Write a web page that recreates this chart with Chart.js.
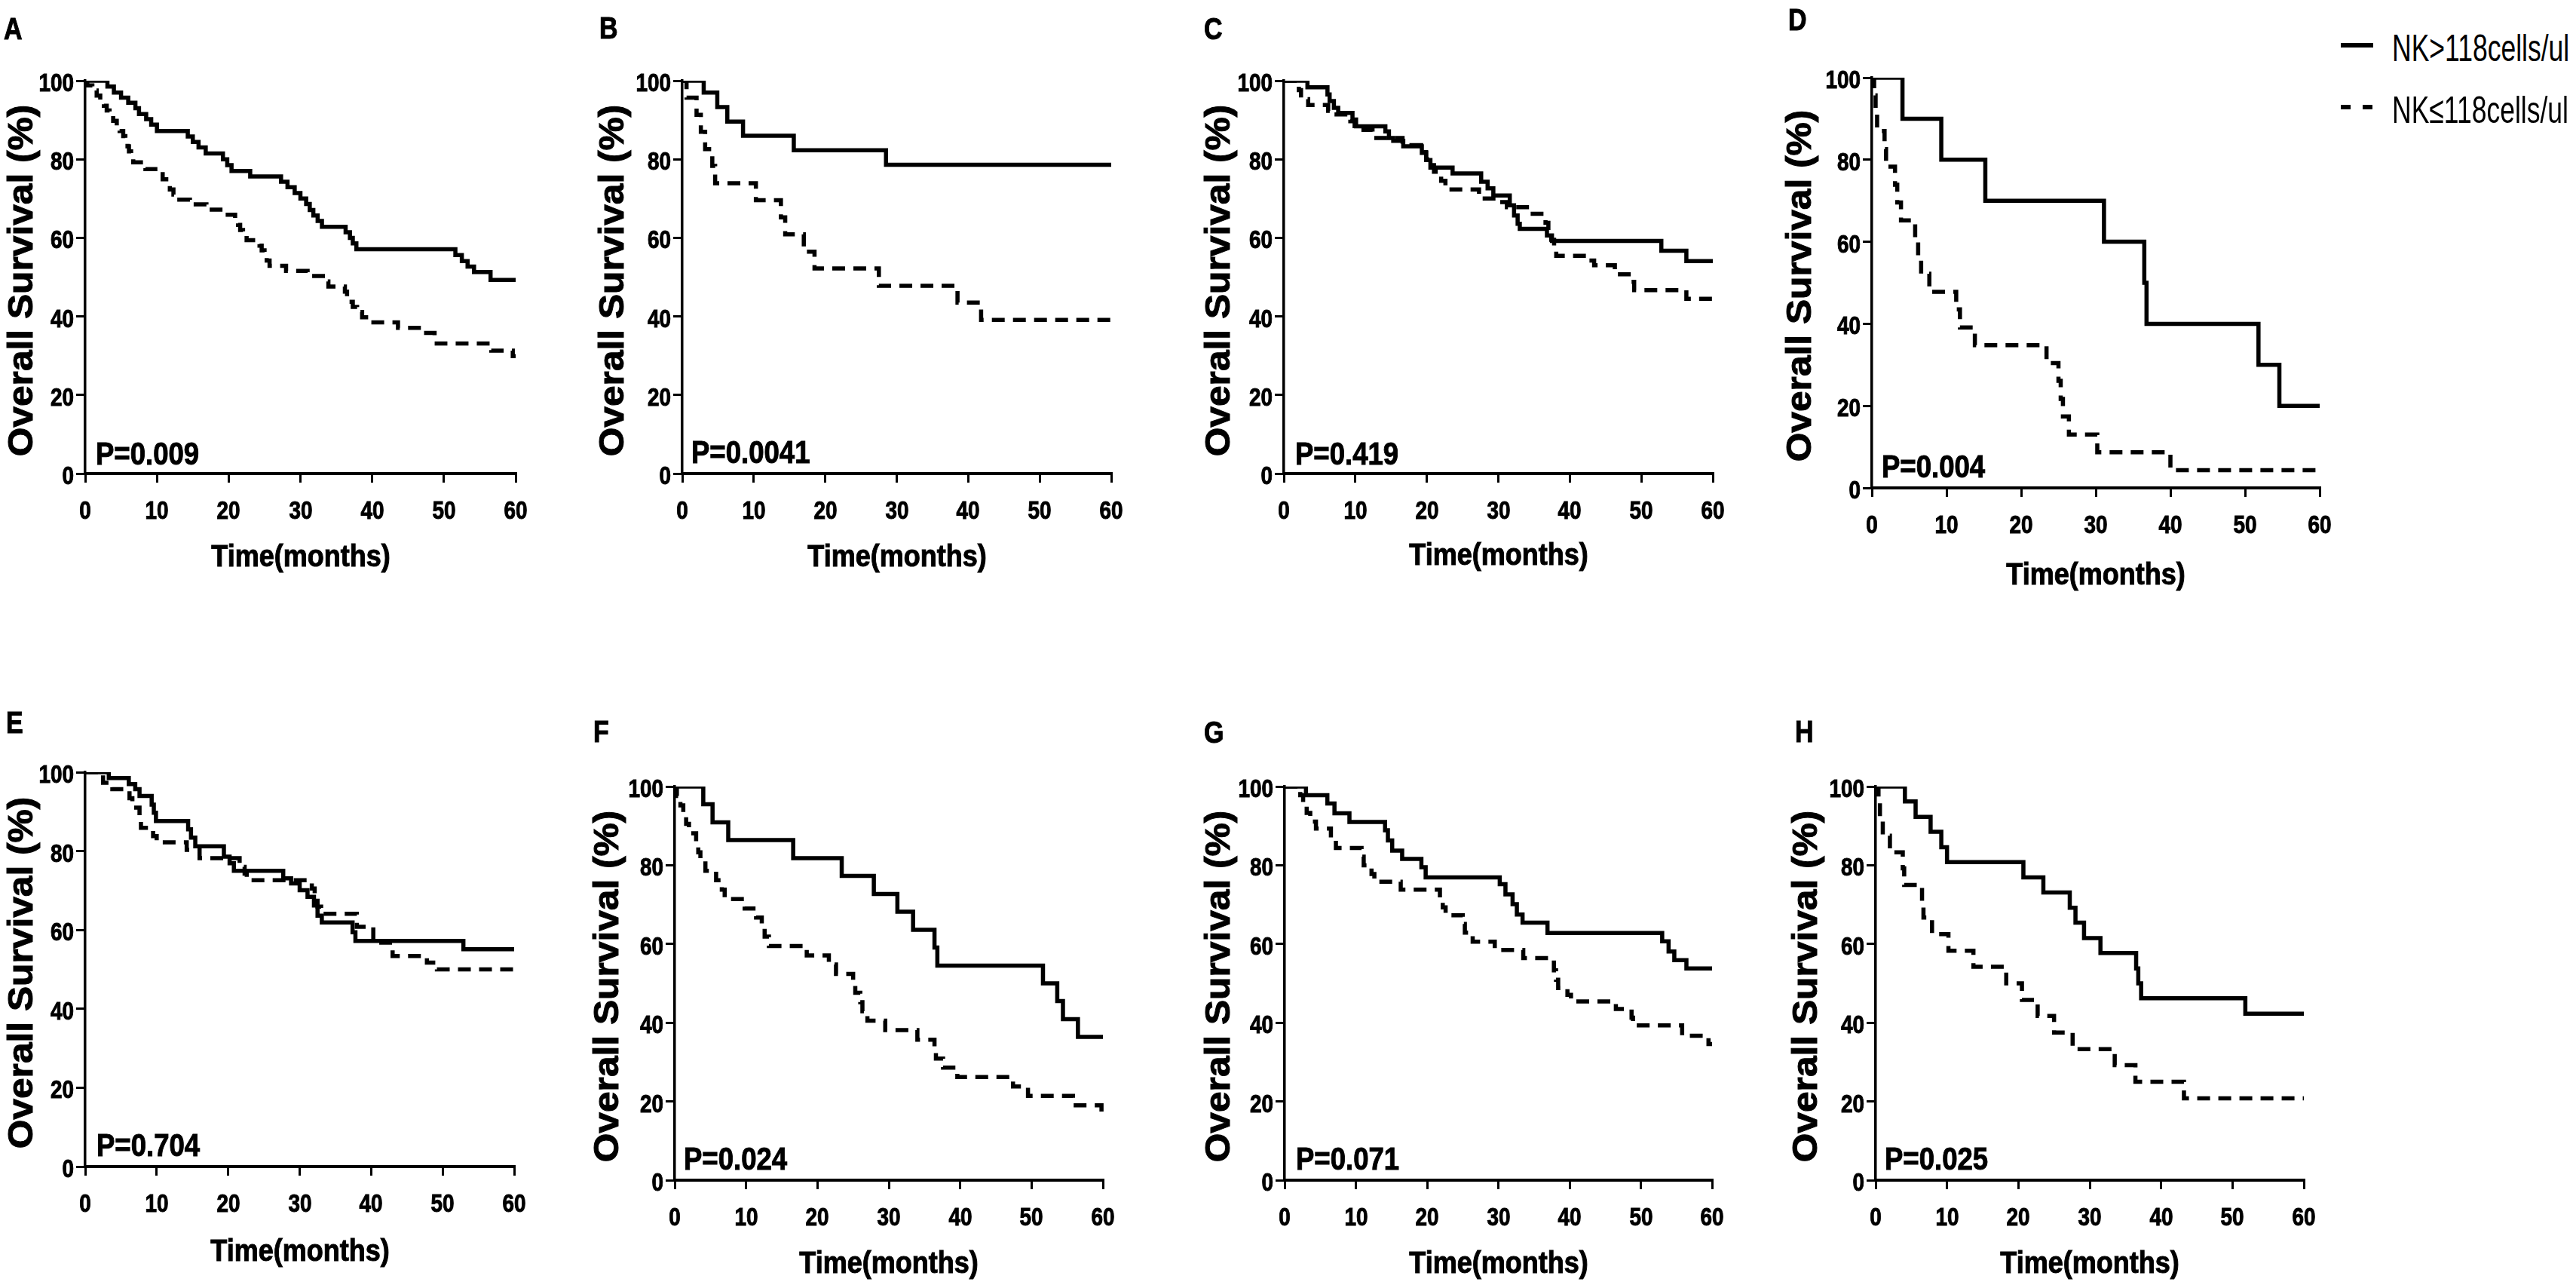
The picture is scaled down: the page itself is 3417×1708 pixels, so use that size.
<!DOCTYPE html>
<html>
<head>
<meta charset="utf-8">
<title>Overall survival by NK cell count</title>
<script src="https://cdn.jsdelivr.net/npm/chart.js@4.4.1/dist/chart.umd.min.js"></script>
<style>
  body { margin: 0; background: #fff; }
  #page { position: relative; width: 3417px; height: 1708px; overflow: hidden; background: #fff; }
  #page canvas { position: absolute; }
  .txt { position: absolute; color: #000; line-height: 1; white-space: nowrap; }
  .left { transform-origin: 0 50%; }
  .center { transform-origin: 50% 50%; }
  .right { transform-origin: 100% 50%; }
  .heavy { -webkit-text-stroke: 1px #000; }
  .letter { font: bold 40px 'Liberation Sans', Arial, sans-serif; }
  .pval { font: bold 42px 'Liberation Sans', Arial, sans-serif; }
  .tick { font: bold 34px 'Liberation Sans', Arial, sans-serif; }
  .xtitle { font: bold 40px 'Liberation Sans', Arial, sans-serif; }
  .ytitle { font: bold 46px 'Liberation Sans', Arial, sans-serif; }
  .legtext { font: 50px 'Liberation Sans', Arial, sans-serif; }
  .legline { position: absolute; height: 6px; }
</style>
</head>
<body>
<div id="page"></div>
<script>
// ---- text + ticks ----
var panelLetters = ['A', 'B', 'C', 'D', 'E', 'F', 'G', 'H'];
var pValues = ['P=0.009', 'P=0.0041', 'P=0.419', 'P=0.004', 'P=0.704', 'P=0.024', 'P=0.071', 'P=0.025'];
var seriesNames = ['NK>118cells/ul', 'NK\u2264118cells/ul'];
var xTickValues = [0, 10, 20, 30, 40, 50, 60];
var yTickValues = [0, 20, 40, 60, 80, 100];
var xTitle = 'Time(months)';
var yTitle = 'Overall Survival (%)';

// ---- Kaplan-Meier steps, [months, survival %] ----
var highA = [[0,100],[3.1,98.5],[4,97],[5,95.7],[6,94.4],[7,93],[7.5,91.5],[8.5,90.2],[9.2,88.8],[10,87.2],[14.3,85.8],[15,84.4],[15.8,83],[16.8,81.5],[19.2,80],[19.8,78.5],[20.4,77],[23,75.6],[27.3,74.3],[28.2,72.9],[29.2,71.4],[30,70],[30.8,68.6],[31.3,67.1],[31.8,65.7],[32.4,64.3],[33,62.8],[36.3,61.4],[36.9,60],[37.3,58.6],[37.8,57.1],[51.6,55.6],[52.5,54.1],[53.3,52.7],[54.2,51.3],[56.5,49.3],[60,49.3]];
var lowA = [[0,100],[0.3,98.8],[1,97.5],[1.6,96.2],[2.1,94.9],[2.6,93.6],[3,92.4],[3.4,91.1],[3.9,89.8],[4.4,88.5],[4.8,87.2],[5.3,85.9],[5.6,84.6],[5.9,83.3],[6.1,82],[6.4,80.7],[6.7,79.2],[8.4,77.5],[10.4,76.2],[10.8,74.9],[11.3,73.6],[11.8,72.3],[12.3,71],[12.7,69.7],[14.6,68.5],[16.9,67.2],[19.4,65.9],[20.9,64.6],[21.3,63.3],[21.6,62],[22,60.7],[22.5,59.4],[24.3,58],[24.6,56.8],[25,55.5],[25.3,54.2],[25.7,52.9],[28,51.6],[31,50.3],[33.5,48.9],[33.9,47.6],[36.2,46.3],[36.5,45],[36.8,43.7],[37.3,42.4],[37.9,41.1],[38.6,39.8],[39.8,38.5],[43.6,37.1],[47,35.8],[48.7,34.5],[49,33.1],[56.6,31.3],[59.6,29.9],[60,29.9]];

var highB = [[0,100],[3,97],[4.9,93.3],[6.3,89.6],[8.5,86],[15.6,82.3],[28.5,78.6],[60,78.6]];
var lowB = [[0,100],[0.6,95.7],[2,91.3],[2.6,87],[3.2,82.6],[4.2,78.3],[4.6,73.9],[10.3,69.6],[13.8,65.2],[14.4,60.9],[17,56.5],[18.5,52.2],[27.5,47.8],[38.5,43.5],[41.8,39.1],[60,39.1]];

var highC = [[0,100],[3.3,98.3],[6.1,96.5],[6.4,94.8],[7,93.1],[7.6,91.8],[9.6,90.1],[10.1,88.4],[14.2,87.1],[14.7,85.4],[15.3,84.7],[16.7,83.3],[19.3,81.6],[19.9,79.8],[20.5,77.9],[23.6,76.4],[27.6,74.3],[28.5,72.6],[29.3,70.8],[31.6,68.3],[32.2,65.7],[32.7,63.6],[33,62.3],[36.8,60.6],[37.5,59.2],[52.8,56.7],[56.3,54.1],[60,54.1]];
var lowC = [[0,100],[2.1,97.6],[2.4,95.3],[3.4,93.8],[6.2,92.3],[6.6,91.4],[9.3,89.7],[9.9,87.5],[12.4,85.4],[16.6,83.6],[19.2,81.8],[19.9,80],[20.4,78.5],[21,76.8],[22,74.5],[22.6,72.3],[27.3,70],[30.1,69.1],[31.2,67.8],[34,66.1],[36.6,63.8],[37,61.4],[37.4,59.5],[37.8,57.6],[38.1,55.4],[42.6,54.2],[43.4,53],[46.3,50.7],[48.6,48.8],[49,46.7],[56.3,44.5],[60,44.5]];

var highD = [[0,100],[4.1,90],[9.3,80],[15.2,70],[31.1,60],[36.5,50],[36.8,40],[51.8,30],[54.6,20],[60,20]];
var lowD = [[0,100],[0.3,95.7],[0.5,91.3],[0.7,87],[1.7,82.6],[1.9,78.3],[3.1,73.9],[3.4,69.6],[3.9,65.2],[5.8,60.9],[6.2,56.5],[6.6,52.2],[7.7,47.8],[11.3,43.5],[11.8,39.1],[13.8,34.8],[23.4,30.4],[25,26.1],[25.3,21.7],[25.6,17.4],[26.4,13],[30.2,8.7],[40,4.3],[60,4.3]];

var highE = [[0,100],[3.3,98.5],[6.1,97],[7,95.7],[7.6,94],[9.3,91.8],[9.6,89.7],[9.9,87.6],[14.4,85.5],[14.8,83.4],[15.4,81.2],[19.4,78.6],[20.2,76.9],[20.8,75],[27.7,73.1],[28.8,71.8],[30,70.1],[31.1,68.4],[32,66.2],[32.5,63.6],[33.1,61.9],[37.4,59.4],[37.8,57.2],[52.9,55.1],[60,55.1]];
var lowE = [[0,100],[2.5,97.3],[3.8,95.7],[6.2,93.4],[6.6,91],[7.6,87.8],[7.8,85.9],[9.5,83.8],[10,82.2],[14.2,80.3],[16,78.2],[21.6,76],[22.3,74.3],[22.6,72.6],[31.7,70.5],[32.1,68.2],[32.5,65.9],[33,64.1],[38,60.8],[40.3,56.8],[43,53.4],[47.8,51.7],[49.2,50],[60,50]];

var highF = [[0,100],[4,95.5],[5.3,90.9],[7.5,86.4],[16.6,81.8],[23.4,77.3],[27.9,72.7],[31.2,68.2],[33.4,63.6],[36.4,59.1],[36.8,54.5],[51.6,50],[53.6,45.5],[54.4,40.9],[56.5,36.4],[60,36.4]];
var lowF = [[0,100],[0.3,97.6],[0.8,95.2],[1.2,92.9],[1.6,90.5],[2,88.1],[3,85.7],[3.3,83.3],[3.6,81],[4.3,78.6],[5.8,76.2],[6.6,73.8],[7,71.4],[9.8,69],[11.4,66.7],[12.2,64.3],[12.6,61.9],[13.2,59.5],[18.5,57.1],[21.6,54.8],[22.6,52.4],[25,50],[25.3,47.6],[26,45.2],[26.3,42.9],[27,40.5],[29.5,38.1],[34,35.7],[36.4,33.3],[36.6,30.9],[37.6,28.6],[39.6,26.2],[47.4,23.8],[49.5,21.4],[55.8,19],[59.8,16.7],[60,16.7]];

var highG = [[0,100],[3,97.8],[6,95.7],[7,93.2],[9.1,91],[14.1,88.9],[14.5,86.3],[15.1,83.7],[16.5,81.6],[19.2,79.5],[19.8,76.9],[30.2,75.2],[31,72.6],[32,70.1],[32.6,67.5],[33.4,65.4],[36.9,62.8],[53,60.7],[53.9,58.1],[54.7,55.9],[56.4,53.8],[60,53.8]];
var lowG = [[0,100],[2.2,97.8],[2.6,95.6],[3.1,93.3],[3.6,91.1],[4.4,89.3],[6.5,86.9],[7.2,84.4],[10.8,82.2],[11.1,80],[12.2,77.8],[12.6,75.8],[16.3,73.8],[21.8,71.6],[22.2,69.3],[22.6,67.3],[25,65.1],[25.3,62.9],[26.4,60.6],[29.5,58.5],[33.5,56.4],[37.8,53.3],[38.1,50.9],[38.4,48.8],[39.7,47.1],[40.2,45.4],[46.5,43.5],[48.7,41.3],[48.9,39.3],[55.8,36.7],[59.5,34.6],[60,34.6]];

var highH = [[0,100],[4.1,96.2],[5.6,92.3],[7.7,88.5],[9.2,84.6],[10,80.8],[20.7,76.9],[23.5,73.1],[27.2,69.2],[28,65.4],[29.2,61.5],[31.5,57.7],[36.5,53.8],[36.8,50],[37.2,46.2],[51.8,42.3],[60,42.3]];
var lowH = [[0,100],[0.4,95.8],[0.6,91.7],[1,87.5],[2,83.3],[3.8,79.2],[4,75],[6.5,70.8],[6.7,66.7],[7.9,62.5],[10.2,58.3],[13.7,54.2],[18.3,50],[20.5,45.8],[22.7,41.7],[25,37.5],[27.6,33.3],[33.5,29.2],[36.4,25],[43.2,20.8],[60,20.8]];

var highCurves = [highA, highB, highC, highD, highE, highF, highG, highH];
var lowCurves = [lowA, lowB, lowC, lowD, lowE, lowF, lowG, lowH];

// ---- layout (page pixels) ----
// plot area of every panel: [left, top, right, bottom]
var panelBoxes = [
  [113, 107, 684, 628], [905, 107, 1474, 628], [1703, 107, 2272, 628], [2483, 103, 3077, 647],
  [113, 1024, 682, 1547], [895, 1043, 1463, 1565], [1704, 1043, 2271, 1565], [2488, 1043, 3056, 1565]
];
var yTitleGap = [86, 94, 88, 97, 86, 91, 89, 94];         // axis line -> centre of y title
var xTitleGap = [107, 107, 105, 112, 109, 107, 107, 107]; // axis line -> centre of x title
var letterPos = [[5, 36], [795, 35], [1597, 36], [2372, 24], [8, 956], [787, 968], [1597, 969], [2381, 968]];
var pPos = [[127, 599], [917, 597], [1718, 599], [2496, 616], [128, 1516], [907, 1534], [1719, 1534], [2500, 1534]];

var X_LABEL_GAP = 46;   // axis line -> centre of x tick labels
var Y_LABEL_GAP = 15;   // axis line -> right edge of y tick labels
var Y_AXIS_W = 130;     // room left of the plot inside each canvas
var X_AXIS_H = 140;     // room below the plot inside each canvas
var PAD_TOP = 30;
var PAD_RIGHT = 40;

function toPoints(pairs) {
  return pairs.map(function (p) { return { x: p[0], y: p[1] }; });
}

// align: 'left' | 'center' | 'right' of x; squeeze = horizontal condensing of the face
function addText(cls, text, x, centerY, size, align, squeeze, rotate) {
  var d = document.createElement('div');
  d.className = 'txt ' + cls + ' ' + align;
  d.textContent = text;
  d.style.left = x + 'px';
  d.style.top = (centerY - size / 2) + 'px';
  var shift = align === 'center' ? 'translateX(-50%) ' : align === 'right' ? 'translateX(-100%) ' : '';
  d.style.transform = shift + (rotate ? 'rotate(-90deg) ' : '') + 'scaleX(' + squeeze + ')';
  document.getElementById('page').appendChild(d);
}

// axis texts are placed from the chart's own scales once it has been laid out
var axisText = {
  id: 'axisText',
  afterDraw: function (chart) {
    if (chart.$axisTextDone) return;
    chart.$axisTextDone = true;
    var i = chart.$panel;
    var offX = parseFloat(chart.canvas.style.left);
    var offY = parseFloat(chart.canvas.style.top);
    var xs = chart.scales.x;
    var ys = chart.scales.y;
    var area = chart.chartArea;
    xTickValues.forEach(function (v) {
      addText('tick heavy', String(v), offX + xs.getPixelForValue(v), offY + area.bottom + X_LABEL_GAP, 35, 'center', 0.82);
    });
    yTickValues.forEach(function (v) {
      addText('tick heavy', String(v), offX + area.left - Y_LABEL_GAP, offY + ys.getPixelForValue(v), 34, 'right', 0.82);
    });
    addText('xtitle heavy', xTitle, offX + (area.left + area.right) / 2, offY + area.bottom + xTitleGap[i], 40, 'center', 0.9);
    addText('ytitle heavy', yTitle, offX + area.left - yTitleGap[i], offY + (area.top + area.bottom) / 2, 46, 'center', 1.08, true);
  }
};

function makePanel(i) {
  var box = panelBoxes[i];
  var plotW = box[2] - box[0];
  var plotH = box[3] - box[1];

  var canvas = document.createElement('canvas');
  canvas.width = Y_AXIS_W + plotW + PAD_RIGHT;
  canvas.height = PAD_TOP + plotH + X_AXIS_H;
  canvas.style.left = (box[0] - Y_AXIS_W) + 'px';
  canvas.style.top = (box[1] - PAD_TOP) + 'px';
  document.getElementById('page').appendChild(canvas);

  var curveClip = { left: 0, top: 0, right: 6, bottom: 0 };

  new Chart(canvas, {
    type: 'line',
    data: {
      datasets: [{
        label: seriesNames[0],
        data: toPoints(highCurves[i]),
        borderColor: '#000',
        borderWidth: 5.5,
        stepped: true,
        pointRadius: 0,
        fill: false,
        clip: curveClip
      }, {
        label: seriesNames[1],
        data: toPoints(lowCurves[i]),
        borderColor: '#000',
        borderWidth: 5.5,
        borderDash: [17, 11],
        stepped: true,
        pointRadius: 0,
        fill: false,
        clip: curveClip
      }]
    },
    options: {
      responsive: false,
      animation: false,
      devicePixelRatio: 1,
      events: [],
      layout: { padding: { top: PAD_TOP, right: PAD_RIGHT, left: 0, bottom: 0 }, autoPadding: false },
      plugins: { legend: { display: false }, tooltip: { enabled: false } },
      scales: {
        x: {
          type: 'linear',
          min: 0,
          max: 60,
          afterBuildTicks: function (s) { s.ticks = xTickValues.map(function (v) { return { value: v }; }); },
          afterFit: function (s) {
            s.height = X_AXIS_H;
            s.paddingLeft = 0; s.paddingRight = 0; s.paddingTop = 0; s.paddingBottom = 0;
          },
          border: { display: true, color: '#000', width: 4 },
          grid: { drawOnChartArea: false, color: '#000', lineWidth: 3, tickLength: 12 },
          ticks: { display: false }
        },
        y: {
          min: 0,
          max: 100,
          afterBuildTicks: function (s) { s.ticks = yTickValues.map(function (v) { return { value: v }; }); },
          afterFit: function (s) {
            s.width = Y_AXIS_W;
            s.paddingLeft = 0; s.paddingRight = 0; s.paddingTop = 0; s.paddingBottom = 0;
          },
          border: { display: true, color: '#000', width: 3.5 },
          grid: { drawOnChartArea: false, color: '#000', lineWidth: 3, tickLength: 12 },
          ticks: { display: false }
        }
      }
    },
    plugins: [{
      id: 'panelIndex',
      beforeInit: function (c) { c.$panel = i; }
    }, axisText]
  });

  addText('letter heavy', panelLetters[i], letterPos[i][0], letterPos[i][1], 40, 'left', 0.85);
  addText('pval heavy', pValues[i], pPos[i][0], pPos[i][1], 42, 'left', 0.87);
}

function makeLegend() {
  var page = document.getElementById('page');
  var rows = [60, 142];
  for (var k = 0; k < 2; k++) {
    var line = document.createElement('div');
    line.className = 'legline';
    line.style.left = '3105px';
    line.style.top = (rows[k] - 3) + 'px';
    line.style.width = '43px';
    line.style.background = k === 0 ? '#000'
      : 'repeating-linear-gradient(to right, #000 0 13px, transparent 13px 29px)';
    page.appendChild(line);
    addText('legtext', seriesNames[k], 3173, rows[k], 50, 'left', 0.71);
  }
}

document.addEventListener('DOMContentLoaded', function () {
  for (var i = 0; i < panelBoxes.length; i++) {
    makePanel(i);
  }
  makeLegend();
});
</script>
</body>
</html>
